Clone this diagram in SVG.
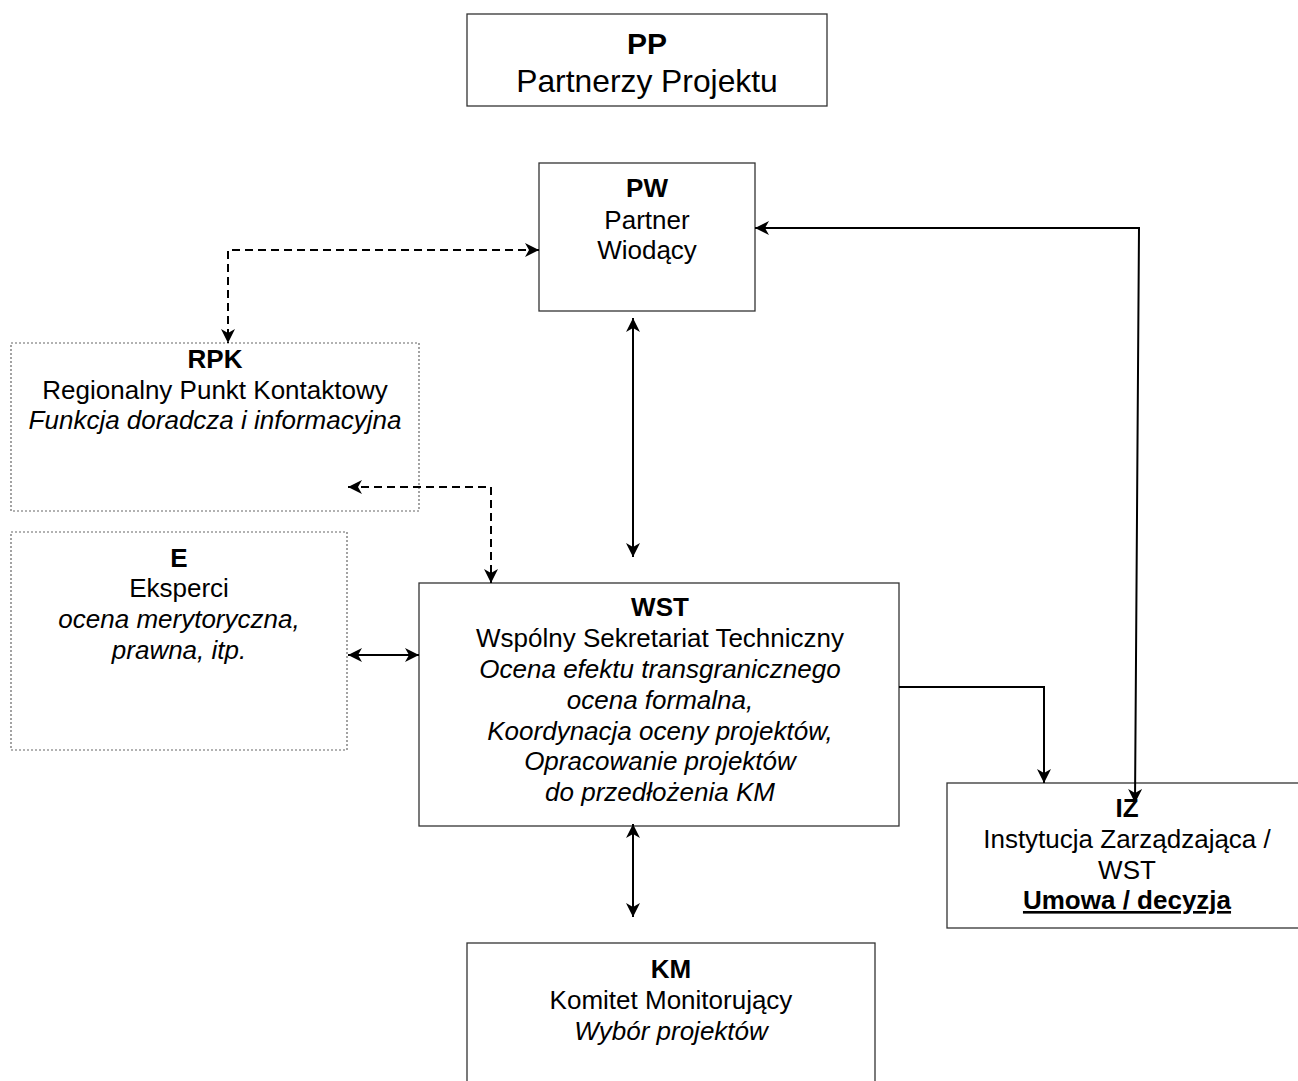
<svg xmlns="http://www.w3.org/2000/svg" width="1298" height="1081" viewBox="0 0 1298 1081">
<style>
  text { font-family: "Liberation Sans", Arial, sans-serif; font-size: 26px; fill: #000; text-anchor: middle; }
  .b { font-weight: bold; }
  .i { font-style: italic; }
  .big { font-size: 31.8px; }
  .box { fill: #fff; stroke: #333; stroke-width: 1.3; }
  .dot { fill: #fff; stroke: #666; stroke-width: 1.2; stroke-dasharray: 2 2; }
  .c { fill: none; stroke: #000; stroke-width: 2; }
  .d { stroke-dasharray: 8 5; }
</style>
<defs>
  <marker id="ah" viewBox="0 0 14 14" refX="14" refY="7" markerWidth="14" markerHeight="14" markerUnits="userSpaceOnUse" orient="auto-start-reverse">
    <path d="M0,0 L14,7 L0,14 L4,7 z" fill="#000"/>
  </marker>
</defs>
<rect width="1298" height="1081" fill="#fff"/>

<g id="node-PP">
  <rect class="box" x="467" y="14" width="360" height="92"/>
  <text class="b" x="647" y="54" style="font-size:30px">PP</text>
  <text class="big" x="647" y="92">Partnerzy Projektu</text>
</g>

<g id="node-PW">
  <rect class="box" x="539" y="163" width="216" height="148"/>
  <text class="b" x="647" y="197">PW</text>
  <text x="647" y="229">Partner</text>
  <text x="647" y="259">Wiodący</text>
</g>

<g id="node-RPK">
  <rect class="dot" x="11" y="343" width="408" height="168"/>
  <text class="b" x="215" y="368">RPK</text>
  <text x="215" y="399">Regionalny Punkt Kontaktowy</text>
  <text class="i" x="215" y="429">Funkcja doradcza i informacyjna</text>
</g>

<g id="node-E">
  <rect class="dot" x="11" y="532" width="336" height="218"/>
  <text class="b" x="179" y="567">E</text>
  <text x="179" y="597">Eksperci</text>
  <text class="i" x="179" y="628">ocena merytoryczna,</text>
  <text class="i" x="179" y="659">prawna, itp.</text>
</g>

<g id="node-WST">
  <rect class="box" x="419" y="583" width="480" height="243"/>
  <text class="b" x="660" y="616">WST</text>
  <text x="660" y="647">Wspólny Sekretariat Techniczny</text>
  <text class="i" x="660" y="678">Ocena efektu transgranicznego</text>
  <text class="i" x="660" y="709">ocena formalna,</text>
  <text class="i" x="660" y="740">Koordynacja oceny projektów,</text>
  <text class="i" x="660" y="770">Opracowanie projektów</text>
  <text class="i" x="660" y="801">do przedłożenia KM</text>
</g>

<g id="node-IZ">
  <rect class="box" x="947" y="783" width="360" height="145"/>
  <text class="b" x="1127" y="817">IZ</text>
  <text x="1127" y="848">Instytucja Zarządzająca /</text>
  <text x="1127" y="879">WST</text>
  <text class="b" x="1127" y="909" text-decoration="underline">Umowa / decyzja</text>
</g>

<g id="node-KM">
  <rect class="box" x="467" y="943" width="408" height="150"/>
  <text class="b" x="671" y="978">KM</text>
  <text x="671" y="1009">Komitet Monitorujący</text>
  <text class="i" x="671" y="1040">Wybór projektów</text>
</g>

<g id="connectors">
  <polyline class="c d" points="539,250 228,250 228,343" marker-start="url(#ah)" marker-end="url(#ah)"/>
  <polyline class="c d" points="348,487 491,487 491,583" marker-start="url(#ah)" marker-end="url(#ah)"/>
  <line class="c" x1="633" y1="318" x2="633" y2="557" marker-start="url(#ah)" marker-end="url(#ah)"/>
  <line class="c" x1="348" y1="655" x2="419" y2="655" marker-start="url(#ah)" marker-end="url(#ah)"/>
  <line class="c" x1="633" y1="824" x2="633" y2="917" marker-start="url(#ah)" marker-end="url(#ah)"/>
  <polyline class="c" points="899,687 1044,687 1044,783" marker-end="url(#ah)"/>
  <polyline class="c" points="1135,803 1139,228 755,228" marker-start="url(#ah)" marker-end="url(#ah)"/>
</g>
</svg>
